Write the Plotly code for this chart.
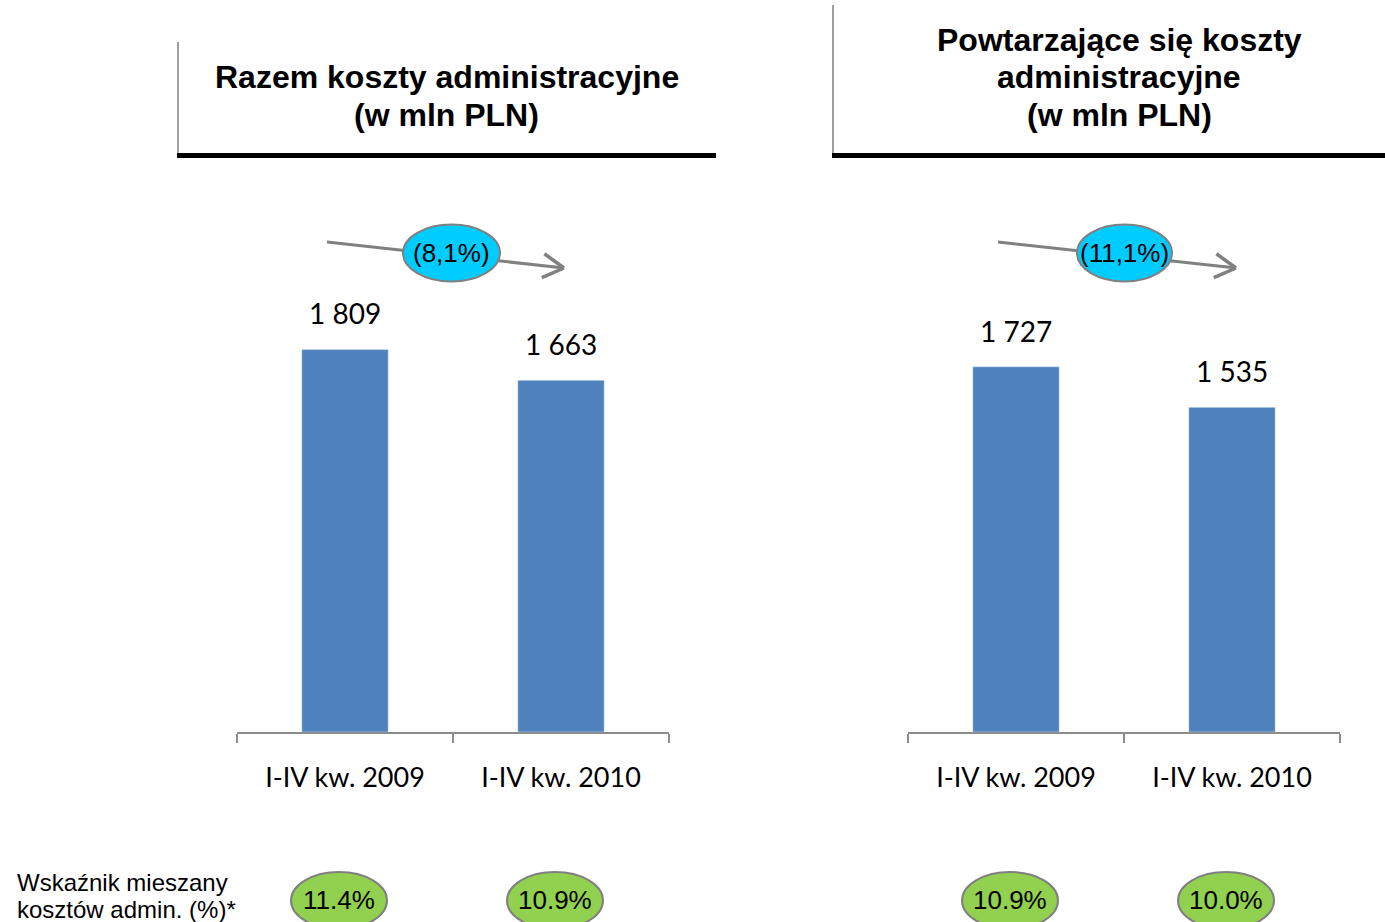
import math
import plotly.graph_objects as go

# ---------------- data ----------------
categories = ["I-IV kw. 2009", "I-IV kw. 2010"]
total_costs = [1809, 1663]          # Razem koszty administracyjne (mln PLN)
recurring_costs = [1727, 1535]      # Powtarzające się koszty administracyjne (mln PLN)
ratio_total = [11.4, 10.9]          # Wskaźnik mieszany kosztów admin. (%)
ratio_recurring = [10.9, 10.0]

title_left = ["Razem koszty administracyjne", "(w mln PLN)"]
title_right = ["Powtarzające się koszty", "administracyjne", "(w mln PLN)"]
ratio_label = ["Wskaźnik mieszany", "kosztów admin. (%)*"]

# ---------------- layout helpers ----------------
W, H = 1385, 922
def px(x):
    return x / W
def py(y):
    return 1 - y / H

BAR_COLOR = "#4F81BD"
AXIS_GRAY = "#8C8C8C"
CALIBRI = "Lato, Carlito, Calibri, sans-serif"
ARIAL = "Arial, Liberation Sans, sans-serif"

def fmt_thousands(v):
    return f"{v:,}".replace(",", " ")

def fmt_change(a, b):
    pct = (b - a) / a * 100
    s = f"{abs(pct):.1f}".replace(".", ",")
    return f"({s}%)" if pct < 0 else f"{s}%"

fig = go.Figure()
fig.add_trace(go.Bar(x=categories, y=total_costs, marker_color=BAR_COLOR,
                     width=0.4, xaxis="x", yaxis="y", showlegend=False,
                     hoverinfo="skip"))
fig.add_trace(go.Bar(x=categories, y=recurring_costs, marker_color=BAR_COLOR,
                     width=0.4, xaxis="x2", yaxis="y2", showlegend=False,
                     hoverinfo="skip"))

y_dom = [py(732), py(309)]
xaxis_common = dict(
    type="category", range=[-0.5, 1.5], showline=True, linecolor=AXIS_GRAY,
    linewidth=2, ticks="outside", ticklen=9, tickwidth=2, tickcolor=AXIS_GRAY,
    tickson="boundaries", showgrid=False, zeroline=False,
    tickfont=dict(family=CALIBRI, size=27, color="#000000"),
    ticklabelstandoff=21, fixedrange=True,
)
yaxis_common = dict(range=[0, 2000], visible=False, showgrid=False,
                    zeroline=False, domain=y_dom, fixedrange=True)

fig.update_layout(
    width=W, height=H, autosize=False,
    margin=dict(l=0, r=0, t=0, b=0),
    paper_bgcolor="white", plot_bgcolor="white",
    bargap=0.6,
    xaxis=dict(domain=[px(237), px(669)], anchor="y", **xaxis_common),
    yaxis=dict(anchor="x", **yaxis_common),
    xaxis2=dict(domain=[px(908), px(1340)], anchor="y2", **xaxis_common),
    yaxis2=dict(anchor="x2", **yaxis_common),
)

annotations = []
shapes = []

# value labels above bars
for xa, ya, vals in (("x", "y", total_costs), ("x2", "y2", recurring_costs)):
    for c, v in zip(categories, vals):
        annotations.append(dict(
            x=c, y=v, xref=xa, yref=ya, text=fmt_thousands(v), showarrow=False,
            yanchor="middle", yshift=36,
            font=dict(family=CALIBRI, size=28, color="#000000")))

# titles
for txt, yy in zip(title_left, [77, 115]):
    annotations.append(dict(x=px(447), y=py(yy), xref="paper", yref="paper",
                            text=f"<b>{txt}</b>", showarrow=False,
                            xanchor="center", yanchor="middle",
                            font=dict(family=ARIAL, size=32, color="#000000")))
for txt, yy in zip(title_right, [40, 77, 115]):
    annotations.append(dict(x=px(1119), y=py(yy), xref="paper", yref="paper",
                            text=f"<b>{txt}</b>", showarrow=False,
                            xanchor="center", yanchor="middle",
                            font=dict(family=ARIAL, size=32, color="#000000")))

# title frame lines
shapes += [
    dict(type="line", xref="paper", yref="paper", x0=px(178), x1=px(178),
         y0=py(42), y1=py(156), line=dict(color="#7F7F7F", width=1.5)),
    dict(type="line", xref="paper", yref="paper", x0=px(177), x1=px(716),
         y0=py(155.5), y1=py(155.5), line=dict(color="#000000", width=5)),
    dict(type="line", xref="paper", yref="paper", x0=px(833), x1=px(833),
         y0=py(5), y1=py(156), line=dict(color="#7F7F7F", width=1.5)),
    dict(type="line", xref="paper", yref="paper", x0=px(832), x1=px(1385),
         y0=py(155.5), y1=py(155.5), line=dict(color="#000000", width=5)),
]

# change arrows with cyan ellipses
def add_arrow(x_start, y_start, x_end, y_end, cx, cy, rx, ry, label):
    shapes.append(dict(type="line", xref="paper", yref="paper",
                       x0=px(x_start), y0=py(y_start), x1=px(x_end - 2), y1=py(y_end - 0.2),
                       line=dict(color="#808080", width=3)))
    dx, dy = x_end - x_start, y_end - y_start
    n = math.hypot(dx, dy)
    ux, uy = dx / n, dy / n
    back, side = 21, 12
    for s in (1, -1):
        ax_ = x_end - back * ux - s * side * uy
        ay_ = y_end - back * uy + s * side * ux
        shapes.append(dict(type="line", xref="paper", yref="paper",
                           x0=px(ax_), y0=py(ay_), x1=px(x_end), y1=py(y_end),
                           line=dict(color="#808080", width=3.5)))
    shapes.append(dict(type="circle", xref="paper", yref="paper",
                       x0=px(cx - rx), x1=px(cx + rx), y0=py(cy + ry), y1=py(cy - ry),
                       fillcolor="#00CCFF", line=dict(color="#808080", width=2)))
    annotations.append(dict(x=px(cx), y=py(cy), xref="paper", yref="paper",
                            text=label, showarrow=False, xanchor="center",
                            yanchor="middle",
                            font=dict(family=ARIAL, size=26, color="#000000")))

add_arrow(327, 242, 564, 268, 451.5, 253, 48.5, 28.5,
          fmt_change(total_costs[0], total_costs[1]))
add_arrow(998, 242, 1236, 268, 1124.5, 253, 47.5, 28.5,
          fmt_change(recurring_costs[0], recurring_costs[1]))

# ratio ellipses (green) anchored under categories
for xa, vals in (("x", ratio_total), ("x2", ratio_recurring)):
    for c, v in zip(categories, vals):
        shapes.append(dict(type="circle", xref=xa, yref="paper",
                           xsizemode="pixel", xanchor=c, x0=-54, x1=42,
                           y0=py(929), y1=py(872),
                           fillcolor="#92D050", line=dict(color="#808080", width=2)))
        annotations.append(dict(x=c, y=py(900), xref=xa, yref="paper",
                                xshift=-6, text=f"{v:.1f}%", showarrow=False,
                                xanchor="center", yanchor="middle",
                                font=dict(family=ARIAL, size=26, color="#000000")))

for txt, yy in zip(ratio_label, [882, 909]):
    annotations.append(dict(x=px(15), y=py(yy), xref="paper", yref="paper",
                            text=txt, showarrow=False, xanchor="left",
                            yanchor="middle",
                            font=dict(family=ARIAL, size=24, color="#000000")))

fig.update_layout(annotations=annotations, shapes=shapes)
fig.write_html(
    "out.html",
    config={"displayModeBar": False},
    post_script="document.body.style.margin='0';document.body.style.padding='0';"
                "document.documentElement.style.overflow='hidden';",
)
